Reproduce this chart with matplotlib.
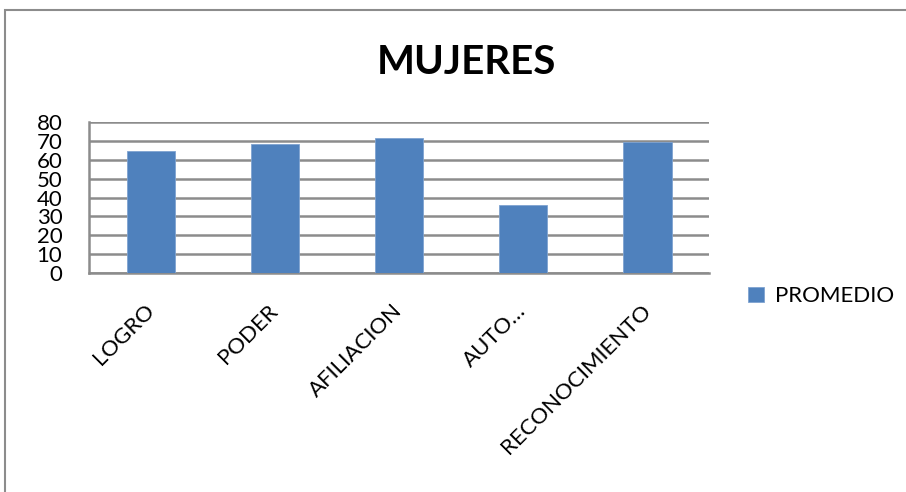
import matplotlib.pyplot as plt
from matplotlib.patches import Rectangle

categorias = ['LOGRO', 'PODER', 'AFILIACION', 'AUTO…', 'RECONOCIMIENTO']
promedio = [64.4, 68.6, 71.6, 35.8, 69.5]
yticks = [0, 10, 20, 30, 40, 50, 60, 70, 80]

plt.rcParams['font.family'] = ['Lato', 'DejaVu Sans']

fig = plt.figure(figsize=(9.06, 4.92), dpi=100)
ax = fig.add_axes([0.098, 0.445, 0.685, 0.307])

# marco del gráfico
fig.patches.append(Rectangle((5/906, -0.1), 1.1, 1 - 10/492 + 0.1, transform=fig.transFigure,
                             fill=False, edgecolor='#8c8c8c', linewidth=1.5))

xs = range(len(categorias))
ax.bar(xs, promedio, width=0.39, color='#4f81bd', edgecolor='#7fa3d0', linewidth=0.6,
       label='PROMEDIO', zorder=3)

ax.set_xlim(-0.5, len(categorias) - 0.5)
ax.set_ylim(0, 80)
ax.set_yticks(yticks)
ax.set_yticklabels([str(v) for v in yticks], fontsize=16)
ax.yaxis.grid(True, color='#8c8c8c', linewidth=1.8, zorder=0)
ax.set_xticks(list(xs))
ax.set_xticklabels(categorias, rotation=45, ha='right', va='center', rotation_mode='anchor',
                   fontsize=16)
ax.tick_params(axis='x', length=0, pad=25)
ax.tick_params(axis='y', length=0, pad=19)

for s in ['top', 'right']:
    ax.spines[s].set_visible(False)
ax.spines['left'].set_color('#8c8c8c')
ax.spines['left'].set_linewidth(1.8)
ax.spines['bottom'].set_color('#8c8c8c')
ax.spines['bottom'].set_linewidth(1.8)

fig.text(0.515, 0.872, 'MUJERES', fontsize=29, fontweight='bold', ha='center', va='center')

fig.legend(loc='center left', bbox_to_anchor=(0.816, 0.398), frameon=False, fontsize=16,
           handlelength=0.7, handleheight=0.7, handletextpad=0.5, borderaxespad=0)

fig.savefig('out.png', dpi=100)
